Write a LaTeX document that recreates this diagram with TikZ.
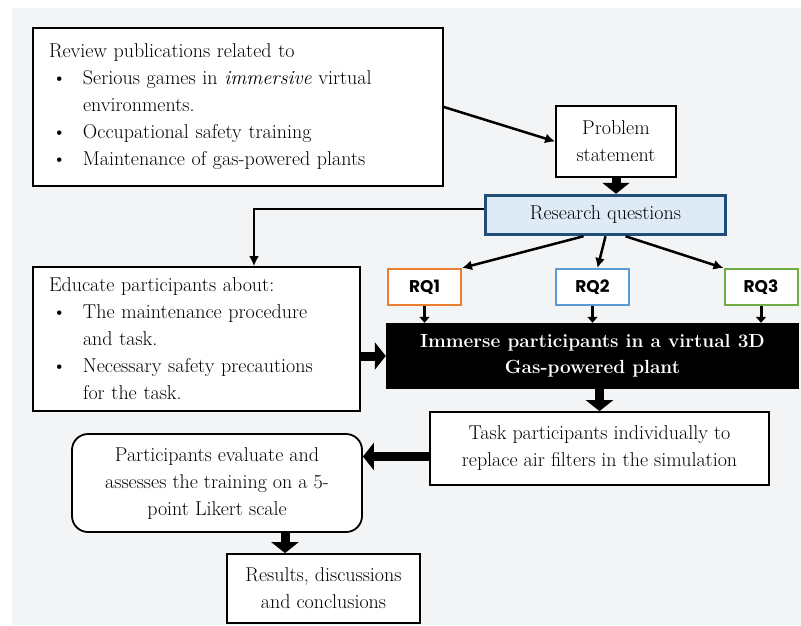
\documentclass[tikz,border=0pt]{standalone}
\usepackage{xcolor}
\usepackage{fontspec}
\usetikzlibrary{shapes.geometric, arrows.meta, positioning, calc}
\newfontfamily\rqfont{Poppins}
\definecolor{bggray}{HTML}{F3F4F6}
\definecolor{rqblue}{HTML}{1F4E79}
\definecolor{rqfill}{HTML}{DEEBF7}
\definecolor{rqorange}{HTML}{ED7D31}
\definecolor{rqsky}{HTML}{5B9BD5}
\definecolor{rqgreen}{HTML}{70AD47}
\tikzstyle{arrow} = [line width=2.5pt,-{Latex[length=10pt,width=10pt]}]
\tikzstyle{fatarrow} = [line width=9pt,-{Triangle[length=11pt,width=27pt]}]
\tikzstyle{smallarrow} = [line width=3pt,-{Triangle[length=6pt,width=10pt]}]
\newcommand{\bitem}[1]{\par\noindent\hangindent=34pt\hangafter=1\makebox[34pt][l]{\hspace{3pt}\textbullet}#1\par}
\newcommand{\brk}{\hfil\break}

\begin{document}
\begin{tikzpicture}[
    x=1pt, y=-1pt,
    every node/.style={font=\fontsize{20}{27}\selectfont},
    box/.style={rectangle, draw, line width=1.8pt, fill=white, inner xsep=16pt},
    rqbox/.style={rectangle, draw, line width=2pt, fill=white, minimum width=73pt, minimum height=36pt, font=\rqfont\bfseries\fontsize{17}{20}\selectfont}
]
    \useasboundingbox (0,0) rectangle (801,625);
    \fill[bggray] (12,8) rectangle (801,625);

    \node[box, text width=378pt, minimum height=158pt, align=left] (review) at (238,107) {Review publications related to
        \bitem{Serious games in \emph{immersive} virtual\brk environments.}
        \bitem{Occupational safety training}
        \bitem{Maintenance of gas-powered plants}};
    \node[box, minimum width=120pt, minimum height=71pt, align=center, inner xsep=4pt] (problem) at (616,141.5) {Problem\\statement};
    \node[rectangle, draw=rqblue, line width=3.5pt, fill=rqfill, minimum width=240pt, minimum height=39pt] (rq) at (605.5,215) {Research questions};

    \node[rqbox, draw=rqorange] (rq1) at (424.5,287) {RQ1};
    \node[rqbox, draw=rqsky] (rq2) at (592.5,287) {RQ2};
    \node[rqbox, draw=rqgreen] (rq3) at (761,287) {RQ3};

    \node[box, text width=295pt, minimum height=144pt, align=left] (educate) at (196.5,339) {Educate participants about:
        \bitem{The maintenance procedure\brk and task.}
        \bitem{Necessary safety precautions\brk for the task.}};
    \node[rectangle, fill=black, text=white, minimum width=413pt, minimum height=66pt, align=center, font=\bfseries\fontsize{19}{26}\selectfont] (immerse) at (592.5,356) {Immerse participants in a virtual 3D\\Gas-powered plant};
    \node[box, minimum width=339pt, minimum height=73pt, align=center] (task) at (599.5,448.5) {Task participants individually to\\replace air filters in the simulation};
    \node[box, rounded corners=16pt, minimum width=290pt, minimum height=98pt, align=center] (evaluate) at (217,483) {Participants evaluate and\\assesses the training on a 5-\\point Likert scale};
    \node[box, minimum width=193pt, minimum height=69pt, align=center] (results) at (323.5,588.5) {Results, discussions\\and conclusions};

    \coordinate (tl) at ([yshift=-8pt]task.west);
    \coordinate (eb) at ([xshift=68pt]evaluate.south);

    \draw[arrow] (review.east) -- (problem.west);
    \draw[fatarrow] (problem.south) -- (problem.south |- rq.north);
    \draw[arrow] ([yshift=6pt]rq.west) -| ([xshift=57.5pt]educate.north);
    \draw[arrow] ([xshift=-22pt]rq.south) -- (rq1.north east);
    \draw[arrow] (rq.south) -- ([xshift=5pt]rq2.north);
    \draw[arrow] ([xshift=20pt]rq.south) -- (rq3.north west);
    \foreach \q in {rq1,rq2,rq3}
        \draw[smallarrow] (\q.south) -- (\q.south |- immerse.north);
    \draw[fatarrow] (educate.east |- immerse.west) -- (immerse.west);
    \draw[fatarrow] (immerse.south -| task.north) -- (task.north);
    \draw[fatarrow] (tl) -- (tl -| evaluate.east);
    \draw[fatarrow] (eb) -- (eb |- results.north);
\end{tikzpicture}
\end{document}
